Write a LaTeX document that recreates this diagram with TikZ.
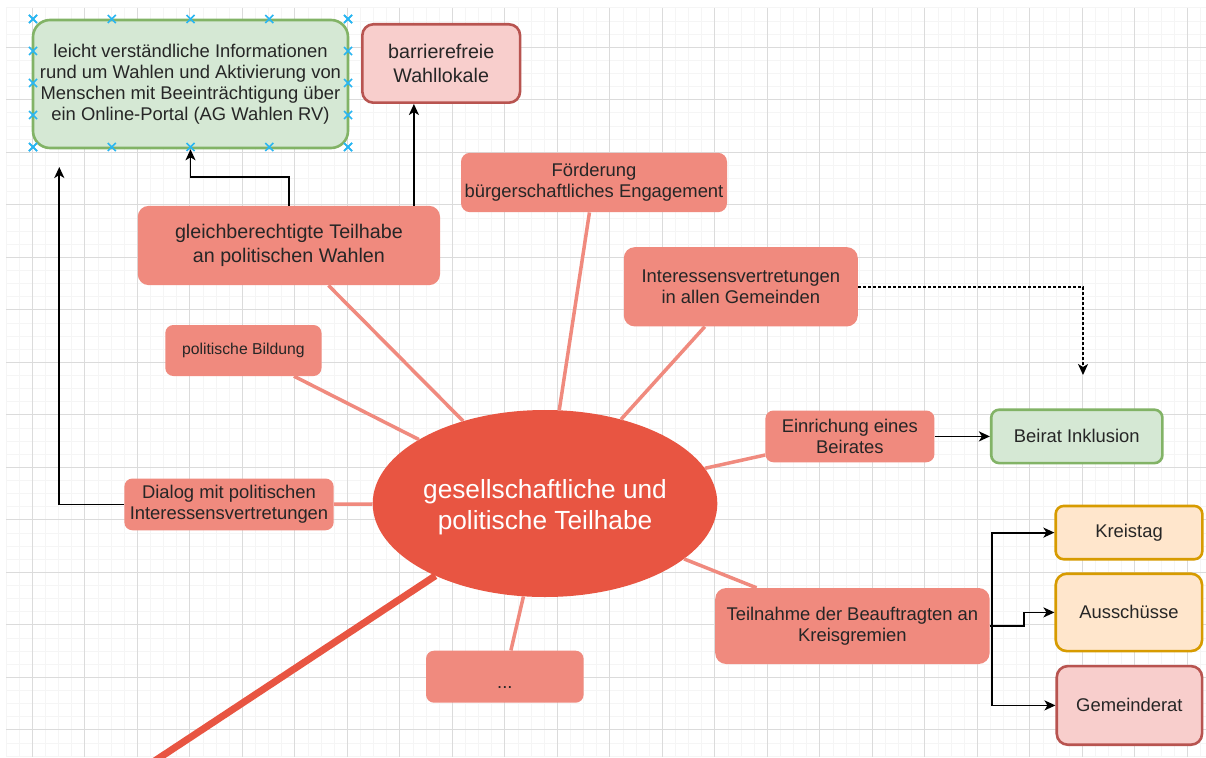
\documentclass[tikz,border=0pt]{standalone}
\usepackage{fontspec}
\setmainfont{Liberation Sans}
\usetikzlibrary{arrows.meta, shapes.geometric}
\definecolor{hubred}{RGB}{232,85,66}
\definecolor{branchred}{RGB}{240,138,126}
\definecolor{greenfill}{HTML}{D5E8D4}
\definecolor{greenline}{HTML}{82B366}
\definecolor{pinkfill}{HTML}{F8CECC}
\definecolor{pinkline}{HTML}{B85450}
\definecolor{orangefill}{HTML}{FFE6CC}
\definecolor{orangeline}{HTML}{D79B00}
\definecolor{gridminor}{gray}{0.962}
\definecolor{gridmajor}{gray}{0.86}
\definecolor{markblue}{HTML}{29B6F2}
\newcommand{\branchfont}{\fontsize{18.4}{21}\selectfont}
\newcommand{\largefont}{\fontsize{19.7}{23.3}\selectfont}
\newcommand{\smallbranchfont}{\fontsize{15.75}{19}\selectfont}
\newcommand{\hubfont}{\fontsize{26.25}{31.5}\selectfont}

\begin{document}
\begin{tikzpicture}[x=1pt, y=-1pt,
    branch/.style={rectangle, rounded corners=9pt, fill=branchred, text=black!85, align=center, inner sep=0pt, font=\branchfont},
    leaf/.style={rectangle, rounded corners=9pt, line width=2.6pt, text=black!85, align=center, inner sep=0pt, font=\branchfont},
    greenleaf/.style={leaf, fill=greenfill, draw=greenline},
    pinkleaf/.style={leaf, fill=pinkfill, draw=pinkline},
    orangeleaf/.style={leaf, fill=orangefill, draw=orangeline},
    hub/.style={ellipse, fill=hubred, text=white, align=center, inner sep=0pt, minimum width=340pt, minimum height=187pt, font=\hubfont},
    spoke/.style={draw=branchred, line width=3.5pt},
    arr/.style={draw=black, line width=1.8pt, -{Stealth[length=11pt, width=10pt, inset=3pt]}},
    xmark/.style={draw=markblue, line width=1.5pt}]
    \useasboundingbox (0,0) rectangle (1206,757);
    \clip (0,0) rectangle (1206,757);
    \fill[white] (0,0) rectangle (1206,757);

    \foreach \gx in {0,...,91} \draw[gridminor, line width=0.8pt] (6.05+13.125*\gx,7.9) -- (6.05+13.125*\gx,757);
    \foreach \gy in {0,...,57} \draw[gridminor, line width=0.8pt] (6.05,7.9+13.125*\gy) -- (1206,7.9+13.125*\gy);
    \foreach \gx in {0,...,22} \draw[gridmajor, line width=0.9pt] (32.3+52.5*\gx,7.9) -- (32.3+52.5*\gx,757);
    \foreach \gy in {0,...,13} \draw[gridmajor, line width=0.9pt] (6.05,47.275+52.5*\gy) -- (1206,47.275+52.5*\gy);

    \node[greenleaf, rounded corners=17pt, minimum width=315pt, minimum height=128pt] (info) at (190.5,84) {leicht verständliche Informationen\\rund um Wahlen und Aktivierung von\\Menschen mit Beeinträchtigung über\\ein Online-Portal (AG Wahlen RV)};
    \node[pinkleaf, rounded corners=11pt, minimum width=157.7pt, minimum height=78.4pt, font=\largefont] (lokale) at (441.2,63.5) {barrierefreie\\Wahllokale};
    \node[branch, rounded corners=11pt, minimum width=302.3pt, minimum height=79.3pt, font=\largefont] (wahlen) at (288.9,245.5) {gleichberechtigte Teilhabe\\an politischen Wahlen};
    \node[branch, minimum width=266pt, minimum height=59.4pt] (engagement) at (594,182.5) {Förderung\\bürgerschaftliches Engagement};
    \node[branch, rounded corners=11pt, minimum width=234pt, minimum height=79.3pt] (gemeinden) at (740.8,286.8) {Interessensvertretungen\\in allen Gemeinden};
    \node[branch, rounded corners=8pt, minimum width=156.2pt, minimum height=51pt, font=\smallbranchfont] (bildung) at (243.4,350.5) {politische Bildung};
    \node[branch, rounded corners=8pt, minimum width=209.3pt, minimum height=51.7pt] (dialog) at (229,504.4) {Dialog mit politischen\\Interessensvertretungen};
    \node[hub, text height=58pt] (hub) at (545,503.5) {gesellschaftliche und\\politische Teilhabe};
    \node[branch, rounded corners=8pt, minimum width=157.6pt, minimum height=52pt, text height=28pt, text depth=3.9pt] (weitere) at (504.8,676.7) {...};
    \node[branch, rounded corners=8pt, minimum width=169pt, minimum height=51.7pt] (beirat) at (849.9,436.4) {Einrichung eines\\Beirates};
    \node[greenleaf, rounded corners=8pt, minimum width=171.2pt, minimum height=53.4pt] (inklusion) at (1076.8,436.4) {Beirat Inklusion};
    \node[branch, rounded corners=11pt, minimum width=274.4pt, minimum height=76pt] (gremien) at (852.4,626) {Teilnahme der Beauftragten an\\Kreisgremien};
    \node[orangeleaf, rounded corners=8pt, minimum width=146.6pt, minimum height=53.3pt] (kreistag) at (1129,532.6) {Kreistag};
    \node[orangeleaf, rounded corners=11pt, minimum width=146.3pt, minimum height=77.4pt] (ausschuss) at (1128.9,612.4) {Ausschüsse};
    \node[pinkleaf, rounded corners=11pt, minimum width=145.3pt, minimum height=78.6pt] (gemeinderat) at (1129.4,705.4) {Gemeinderat};
    \coordinate (dialogtip) at (59.3,167);
    \coordinate (gemeindentip) at (1083,375);
    \coordinate (offpage) at (150,764);

    \draw[spoke] (wahlen) -- (hub);
    \draw[spoke] (bildung) -- (hub);
    \draw[spoke] (dialog) -- (hub);
    \draw[spoke] (engagement) -- (hub);
    \draw[spoke] (gemeinden) -- (hub);
    \draw[spoke] (beirat) -- (hub);
    \draw[spoke] (gremien) -- (hub);
    \draw[spoke] (weitere) -- (hub);
    \draw[hubred, line width=7pt] (hub) -- (offpage);

    \draw[arr] (wahlen.north) -- ++(0,-28.3) -| (info.south);
    \draw[arr] ([xshift=125pt]wahlen.north) -- ([xshift=125pt]wahlen.north |- lokale.south);
    \draw[arr] (dialog.west) -| (dialogtip);
    \draw[arr, line width=1.6pt, dash pattern=on 3pt off 2pt] (gemeinden.east) -| (gemeindentip);
    \draw[arr] (beirat.east) -- (inklusion.west);
    \draw[arr] (gremien.east) -- ++(2,0) |- (kreistag.west);
    \draw[arr] (gremien.east) -- ++(34,0) |- (ausschuss.west);
    \draw[arr] (gremien.east) -- ++(2,0) |- (gemeinderat.west);

    \foreach \i in {0,...,4} {
        \draw[xmark] (29+78.75*\i,15) -- ++(8,8) (29+78.75*\i,23) -- ++(8,-8);
        \draw[xmark] (29+78.75*\i,143) -- ++(8,8) (29+78.75*\i,151) -- ++(8,-8);
        \draw[xmark] (29,15+32*\i) -- ++(8,8) (29,23+32*\i) -- ++(8,-8);
        \draw[xmark] (344,15+32*\i) -- ++(8,8) (344,23+32*\i) -- ++(8,-8);
    }
\end{tikzpicture}
\end{document}
